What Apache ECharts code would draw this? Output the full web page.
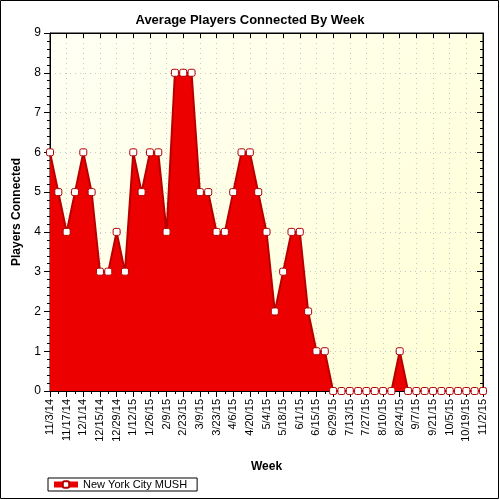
<!DOCTYPE html>
<html>
<head>
<meta charset="utf-8">
<script src="https://cdn.jsdelivr.net/npm/echarts@6/dist/echarts.min.js"></script>
<style>html,body{margin:0;padding:0;background:#fff}#c{width:500px;height:500px}</style>
</head>
<body>
<div id="c"></div>
<script>
var weeks = ['11/3/14','11/10/14','11/17/14','11/24/14','12/1/14','12/8/14','12/15/14','12/22/14','12/29/14','1/5/15',
'1/12/15','1/19/15','1/26/15','2/2/15','2/9/15','2/16/15','2/23/15','3/2/15','3/9/15','3/16/15',
'3/23/15','3/30/15','4/6/15','4/13/15','4/20/15','4/27/15','5/4/15','5/11/15','5/18/15','5/25/15',
'6/1/15','6/8/15','6/15/15','6/22/15','6/29/15','7/6/15','7/13/15','7/20/15','7/27/15','8/3/15',
'8/10/15','8/17/15','8/24/15','8/31/15','9/7/15','9/14/15','9/21/15','9/28/15','10/5/15','10/12/15',
'10/19/15','10/26/15','11/2/15'];
var players = [6,5,4,5,6,5,3,3,4,3,
6,5,6,6,4,8,8,8,5,5,
4,4,5,6,6,5,4,2,3,4,
4,2,1,1,0,0,0,0,0,0,
0,0,1,0,0,0,0,0,0,0,
0,0,0];
var seriesName = 'New York City MUSH';
var yTicks = [0,1,2,3,4,5,6,7,8,9];

var chart = echarts.init(document.getElementById('c'));
var font = 'Liberation Sans, Arial, sans-serif';
chart.setOption({
  animation: false,
  title: {text: 'Average Players Connected By Week', left: 'center', top: 9,
    textStyle: {fontFamily: font, fontSize: 13, fontWeight: 'bold', color: '#000'}},
  grid: {left: 50, right: 17, top: 33, bottom: 109, show: true,
    backgroundColor: new echarts.graphic.LinearGradient(0, 0, 1, 1, [{offset: 0, color: '#FFFFF4'}, {offset: 1, color: '#FFFFD6'}]),
    borderColor: '#000', borderWidth: 1},
  legend: {left: 48, top: 478, itemWidth: 24, itemHeight: 8, itemGap: 4, padding: [1, 10, 1, 3],
    borderColor: '#000', borderWidth: 1, borderRadius: 0,
    lineStyle: {width: 6, color: '#E80000'},
    textStyle: {fontFamily: font, fontSize: 11, color: '#000'}, data: [seriesName]},
  xAxis: [{
    type: 'category', data: weeks, boundaryGap: false, position: 'bottom',
    name: 'Week', nameLocation: 'middle', nameGap: 70,
    nameTextStyle: {fontFamily: font, fontSize: 12, fontWeight: 'bold', color: '#000'},
    axisLine: {lineStyle: {color: '#000'}},
    axisTick: {show: true, interval: 1, length: 6, lineStyle: {color: '#000'}},
    axisLabel: {interval: 1, rotate: 90, fontFamily: font, fontSize: 11, color: '#000', margin: 8},
    splitLine: {show: true, interval: 1, lineStyle: {color: '#C8C8C8', type: [1, 4]}}
  }, {
    type: 'category', data: weeks, boundaryGap: false, position: 'bottom',
    axisLine: {show: false}, axisLabel: {show: false},
    axisTick: {show: true, interval: 0, length: 3, lineStyle: {color: '#000'}}, splitLine: {show: false}
  }, {
    type: 'category', data: weeks, boundaryGap: false, position: 'top',
    axisLine: {show: true, lineStyle: {color: '#000'}}, axisLabel: {show: false},
    axisTick: {show: true, inside: true, interval: 1, length: 5, lineStyle: {color: '#000'}}, splitLine: {show: false}
  }],
  yAxis: [{
    type: 'value', min: 0, max: 9, interval: 1, position: 'left',
    name: 'Players Connected', nameLocation: 'middle', nameGap: 27,
    nameTextStyle: {fontFamily: font, fontSize: 12, fontWeight: 'bold', color: '#000'},
    axisLine: {show: true, lineStyle: {color: '#000'}},
    axisTick: {show: true, length: 6, lineStyle: {color: '#000'}},
    minorTick: {show: true, splitNumber: 5, length: 3, lineStyle: {color: '#000'}},
    axisLabel: {fontFamily: font, fontSize: 12, color: '#000', margin: 9,
      formatter: function (v) { return yTicks.indexOf(v) >= 0 ? String(v) : ''; }},
    splitLine: {show: true, lineStyle: {color: '#C8C8C8', type: [1, 4]}}
  }, {
    type: 'value', min: 0, max: 9, interval: 1, position: 'right',
    axisLine: {show: true, lineStyle: {color: '#000'}},
    axisTick: {show: true, inside: true, length: 6, lineStyle: {color: '#000'}},
    minorTick: {show: true, splitNumber: 5, length: 3, lineStyle: {color: '#000'}},
    axisLabel: {show: false}, splitLine: {show: false}
  }],
  series: [{
    name: seriesName, type: 'line', data: players,
    symbol: 'roundRect', symbolSize: 7, showAllSymbol: true,
    itemStyle: {color: '#FFFFFF', borderColor: '#B00000', borderWidth: 1},
    lineStyle: {color: '#B80000', width: 2},
    areaStyle: {color: '#EC0000', opacity: 1}
  }],
  graphic: [{type: 'rect', shape: {x: 0.5, y: 0.5, width: 498, height: 498},
    style: {fill: 'none', stroke: '#000', lineWidth: 1}, silent: true, z: 100}]
});
</script>
</body>
</html>
